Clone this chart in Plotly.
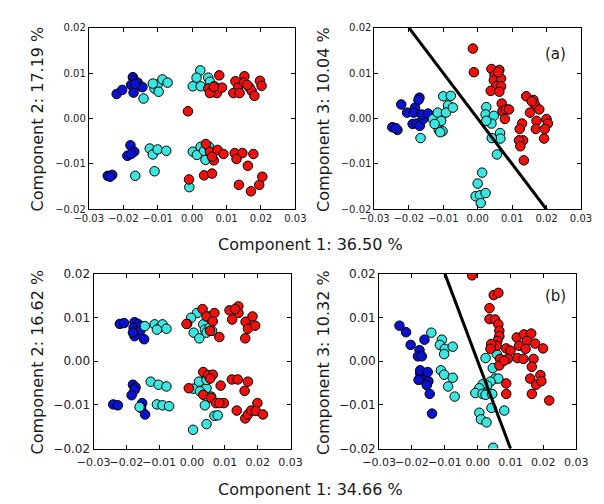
import plotly.graph_objects as go

# ---------------- data ----------------
# Panel (top-left): Component 1 vs Component 2, set (a)
a12_blue_x = [-0.0219, -0.0203, -0.0172, -0.0168, -0.0177, -0.0158, -0.0153, -0.0144, -0.0170, -0.0165,
              -0.0179, -0.0188, -0.0168, -0.0177, -0.0245, -0.0232, -0.0238]
a12_blue_y = [0.0054, 0.0063, 0.0091, 0.0084, 0.0074, 0.0079, 0.0071, 0.0069, 0.0057, 0.0076,
              -0.0059, -0.0082, -0.0073, -0.0078, -0.0126, -0.0124, -0.0128]
a12_cyan_x = [-0.0141, -0.0109, -0.0100, -0.0086, -0.0071, -0.0097, -0.0114,
              0.0024, 0.0013, 0.0002, 0.0025, 0.0047, 0.0052, 0.0065, 0.0070,
              -0.0123, -0.0114, -0.0100, -0.0075, -0.0165, -0.0109,
              0.0002, 0.0014, 0.0025, 0.0035, 0.0039, 0.0049, -0.0008]
a12_cyan_y = [0.0044, 0.0066, 0.0075, 0.0086, 0.0079, 0.0059, 0.0077,
              0.0106, 0.0090, 0.0071, 0.0071, 0.0090, 0.0081, 0.0071, 0.0066,
              -0.0066, -0.0079, -0.0068, -0.0071, -0.0126, -0.0116,
              -0.0073, -0.0080, -0.0062, -0.0071, -0.0091, -0.0062, -0.0151]
a12_red_x = [0.0079, 0.0047, 0.0058, 0.0072, 0.0087, 0.0052, 0.0063,
             0.0126, 0.0152, 0.0134, 0.0120, 0.0138, 0.0151, 0.0167, 0.0173, 0.0181, 0.0197, 0.0202, 0.0160,
             -0.0012,
             0.0040, 0.0052, 0.0074, 0.0063, 0.0058, 0.0091, 0.0124, 0.0146, 0.0129, 0.0178, 0.0162,
             -0.0009, 0.0035, 0.0058, 0.0136, 0.0171, 0.0195, 0.0204]
a12_red_y = [0.0095, 0.0066, 0.0059, 0.0056, 0.0068, 0.0056, 0.0070,
             0.0082, 0.0093, 0.0068, 0.0056, 0.0056, 0.0079, 0.0068, 0.0061, 0.0050, 0.0083, 0.0072, 0.0074,
             0.0016,
             -0.0056, -0.0073, -0.0069, -0.0092, -0.0084, -0.0078, -0.0076, -0.0076, -0.0089, -0.0078, -0.0104,
             -0.0134, -0.0125, -0.0121, -0.0146, -0.0160, -0.0146, -0.0128]

# Panel (top-right): Component 1 vs Component 3, set (a)
a13_blue_x = [-0.0248, -0.0233, -0.0238, -0.0222, -0.0205, -0.0182, -0.0169, -0.0172, -0.0186, -0.0189,
              -0.0177, -0.0168, -0.0158, -0.0163, -0.0144]
a13_blue_y = [-0.0019, -0.0025, -0.0021, 0.0031, 0.0013, 0.0024, 0.0046, 0.0041, 0.0013, -0.0012,
              -0.0011, -0.0016, -0.0001, 0.0009, 0.0011]
a13_cyan_x = [-0.0166, -0.0130, -0.0116, -0.0106, -0.0100, -0.0078, -0.0086, -0.0092, -0.0072, -0.0113,
              -0.0102, -0.0109, -0.0125,
              0.0025, 0.0023, 0.0047, 0.0040, 0.0025, 0.0065, 0.0066, 0.0041, 0.0056,
              0.0013, 0.0000, -0.0006, 0.0007, 0.0023, 0.0009]
a13_cyan_y = [-0.0043, -0.0001, 0.0013, -0.0005, 0.0049, 0.0050, 0.0029, 0.0013, 0.0024, -0.0025,
              -0.0028, -0.0030, -0.0012,
              0.0025, 0.0009, 0.0006, -0.0011, -0.0005, -0.0032, -0.0044, -0.0043, -0.0079,
              -0.0119, -0.0143, -0.0171, -0.0169, -0.0164, -0.0186]
a13_red_x = [-0.0014, -0.0011, 0.0040, 0.0063, 0.0049, 0.0047, 0.0068, 0.0054, 0.0068, 0.0038, 0.0063, 0.0060,
             0.0070, 0.0072, 0.0082, 0.0091, 0.0079,
             0.0141, 0.0162, 0.0166, 0.0179, 0.0152, 0.0171, 0.0169, 0.0200, 0.0204, 0.0195, 0.0193,
             0.0129, 0.0122, 0.0132, 0.0120, 0.0124, 0.0134, 0.0157]
a13_red_y = [0.0154, 0.0102, 0.0109, 0.0107, 0.0095, 0.0084, 0.0088, 0.0071, 0.0071, 0.0061, 0.0059, 0.0102,
             0.0033, 0.0016, 0.0020, 0.0020, -0.0001,
             0.0049, 0.0041, 0.0031, 0.0020, 0.0013, -0.0005, -0.0023, -0.0001, -0.0011, -0.0023, -0.0044,
             -0.0011, -0.0023, -0.0048, -0.0048, -0.0061, -0.0092, 0.0038]
a13_line_x = [-0.02, 0.02]
a13_line_y = [0.02, -0.02]

# Panel (bottom-left): Component 1 vs Component 2, set (b)
b12_blue_x = [-0.0220, -0.0207, -0.0175, -0.0165, -0.0178, -0.0155, -0.0170, -0.0158, -0.0175, -0.0146, -0.0180,
              -0.0180, -0.0172, -0.0175, -0.0184, -0.0240, -0.0226, -0.0152, -0.0155, -0.0143]
b12_blue_y = [0.0085, 0.0087, 0.0089, 0.0085, 0.0076, 0.0080, 0.0069, 0.0069, 0.0057, 0.0050, 0.0065,
              -0.0054, -0.0060, -0.0066, -0.0078, -0.0099, -0.0101, -0.0096, -0.0107, -0.0122]
b12_cyan_x = [-0.0144, -0.0114, -0.0100, -0.0090, -0.0078, -0.0107,
              0.0015, -0.0003, -0.0015, 0.0005, 0.0022, 0.0034, 0.0039, 0.0053, 0.0044, 0.0061, 0.0049,
              -0.0126, -0.0102, -0.0078, -0.0107, -0.0090, -0.0070, -0.0160,
              0.0021, 0.0003, 0.0044, 0.0058, 0.0039, 0.0068, 0.0078, 0.0044, 0.0003, 0.0024, 0.0044]
b12_cyan_y = [0.0080, 0.0084, 0.0076, 0.0084, 0.0074, 0.0072,
              0.0110, 0.0099, 0.0085, 0.0065, 0.0052, 0.0084, 0.0072, 0.0076, 0.0065, 0.0069, 0.0102,
              -0.0047, -0.0054, -0.0058, -0.0099, -0.0101, -0.0103, -0.0105,
              -0.0047, -0.0063, -0.0062, -0.0081, -0.0101, -0.0125, -0.0124, -0.0144, -0.0157, -0.0069, -0.0043]
b12_red_x = [-0.0017, 0.0032, 0.0044, 0.0068, 0.0063, 0.0055, 0.0083,
             0.0114, 0.0141, 0.0141, 0.0122, 0.0163, 0.0184, 0.0170, 0.0192, 0.0162, 0.0131,
             0.0034, 0.0049, 0.0063, 0.0055, 0.0087, -0.0010, 0.0034, 0.0058, 0.0073, 0.0097, 0.0083,
             0.0121, 0.0139, 0.0170, 0.0160, 0.0136, 0.0162, 0.0170, 0.0180, 0.0199, 0.0194, 0.0216]
b12_red_y = [0.0085, 0.0119, 0.0102, 0.0110, 0.0091, 0.0069, 0.0055,
             0.0116, 0.0125, 0.0110, 0.0095, 0.0090, 0.0102, 0.0074, 0.0081, 0.0052, 0.0119,
             -0.0025, -0.0032, -0.0031, -0.0040, -0.0056, -0.0062, -0.0077, -0.0084, -0.0096, -0.0096, -0.0096,
             -0.0042, -0.0042, -0.0047, -0.0068, -0.0113, -0.0131, -0.0122, -0.0113, -0.0096, -0.0114, -0.0122]

# Panel (bottom-right): Component 1 vs Component 3, set (b)
b13_blue_x = [-0.0238, -0.0218, -0.0204, -0.0177, -0.0182, -0.0170, -0.0162, -0.0175, -0.0170, -0.0160,
              -0.0165, -0.0150, -0.0155, -0.0146, -0.0139, -0.0175, -0.0152, -0.0180]
b13_blue_y = [0.0081, 0.0066, 0.0037, 0.0025, 0.0011, 0.0011, 0.0049, -0.0028, -0.0036, -0.0031,
              -0.0043, -0.0046, -0.0055, -0.0075, -0.0120, -0.0021, -0.0025, -0.0043]
b13_cyan_x = [-0.0141, -0.0109, -0.0115, -0.0100, -0.0076, -0.0102, -0.0112, -0.0102, -0.0076, -0.0090, -0.0070,
              0.0024, 0.0046, 0.0058, 0.0053, 0.0063, 0.0039, 0.0029, 0.0015, 0.0005, -0.0007, 0.0015,
              0.0024, 0.0044, 0.0042, 0.0081, 0.0005, 0.0010, 0.0027, 0.0047]
b13_cyan_y = [0.0065, 0.0049, 0.0037, 0.0028, 0.0033, 0.0016, -0.0021, -0.0031, -0.0038, -0.0058, -0.0081,
              0.0007, -0.0016, 0.0016, -0.0040, -0.0040, -0.0047, -0.0056, -0.0053, -0.0062, -0.0073, -0.0075,
              -0.0077, -0.0075, -0.0107, -0.0113, -0.0118, -0.0133, -0.0140, -0.0198]
b13_red_x = [-0.0017, 0.0049, 0.0063, 0.0036, 0.0036, 0.0053, 0.0063, 0.0066, 0.0066, 0.0060, 0.0058, 0.0041,
             0.0039, 0.0068, 0.0087, 0.0100, 0.0092, 0.0066, 0.0081, 0.0087, 0.0087,
             0.0119, 0.0141, 0.0163, 0.0150, 0.0126, 0.0146, 0.0175, 0.0199, 0.0121, 0.0139, 0.0170,
             0.0165, 0.0160, 0.0178, 0.0191, 0.0194, 0.0165, 0.0218]
b13_red_y = [0.0196, 0.0151, 0.0156, 0.0121, 0.0096, 0.0095, 0.0084, 0.0069, 0.0057, 0.0046, 0.0035, 0.0039,
             0.0028, 0.0005, 0.0029, 0.0024, 0.0005, -0.0010, 0.0001, -0.0051, -0.0075,
             0.0054, 0.0061, 0.0063, 0.0046, 0.0035, 0.0028, 0.0040, 0.0029, 0.0007, 0.0005, 0.0005,
             -0.0013, -0.0040, -0.0054, -0.0032, -0.0046, -0.0075, -0.0090]
b13_line_x = [-0.01, 0.01]
b13_line_y = [0.02, -0.02]

x_ticks = [-0.03, -0.02, -0.01, 0.0, 0.01, 0.02, 0.03]
y_ticks = [-0.02, -0.01, 0.0, 0.01, 0.02]
x_ticktext = ["\u22120.03", "\u22120.02", "\u22120.01", "0.00", "0.01", "0.02", "0.03"]
y_ticktext = ["\u22120.02", "\u22120.01", "0.00", "0.01", "0.02"]

BLUE = "#0a12d0"
CYAN = "#3ce6e0"
RED = "#f0100c"
FONT = "DejaVu Sans"

W, H = 604, 504
fig = go.Figure()

panels = [
    # (suffix, x-domain px, y-domain px (top,bottom), x tick size, y tick size, x standoff, data..., line)
    ("", (67, 284), (13, 200), 10, 10, 0, (a12_blue_x, a12_blue_y), (a12_cyan_x, a12_cyan_y), (a12_red_x, a12_red_y), None),
    ("2", (367, 584), (13, 200), 10, 10, 0, (a13_blue_x, a13_blue_y), (a13_cyan_x, a13_cyan_y), (a13_red_x, a13_red_y), (a13_line_x, a13_line_y)),
    ("3", (72, 279), (266, 446), 11, 12, 3, (b12_blue_x, b12_blue_y), (b12_cyan_x, b12_cyan_y), (b12_red_x, b12_red_y), None),
    ("4", (372, 579), (266, 446), 11, 12, 3, (b13_blue_x, b13_blue_y), (b13_cyan_x, b13_cyan_y), (b13_red_x, b13_red_y), (b13_line_x, b13_line_y)),
]

layout_axes = {}
for suf, (x0, x1), (yt, yb), xfs, yfs, xso, blue, cyan, red, line in panels:
    xa, ya = "x" + suf, "y" + suf
    for (xs, ys), col in ((blue, BLUE), (cyan, CYAN), (red, RED)):
        fig.add_trace(go.Scatter(
            x=xs, y=ys, mode="markers", xaxis=xa, yaxis=ya, showlegend=False,
            marker=dict(size=9.5, color=col, line=dict(color="black", width=1)),
        ))
    if line is not None:
        fig.add_trace(go.Scatter(
            x=line[0], y=line[1], mode="lines", xaxis=xa, yaxis=ya, showlegend=False,
            line=dict(color="black", width=3),
        ))
    common = dict(showgrid=False, zeroline=False, showline=True, linecolor="black", linewidth=1,
                  mirror="allticks", ticks="inside", ticklen=4, tickwidth=1, tickcolor="black")
    layout_axes["xaxis" + suf] = dict(common, domain=[x0 / W, x1 / W], range=[-0.03, 0.03],
                                      tickvals=x_ticks, ticktext=x_ticktext, tickangle=0, anchor=ya,
                                      ticklabelstandoff=xso,
                                      tickfont=dict(family=FONT, size=xfs, color="#222222"))
    layout_axes["yaxis" + suf] = dict(common, domain=[1 - yb / H, 1 - yt / H], range=[-0.02, 0.02],
                                      tickvals=y_ticks, ticktext=y_ticktext, anchor=xa,
                                      tickfont=dict(family=FONT, size=yfs, color="#222222"))

fig.update_layout(**layout_axes)

def ann(text, px, py, size=16, angle=0):
    return dict(text=text, x=px / W, y=1 - py / H, xref="paper", yref="paper", showarrow=False,
                textangle=angle, xanchor="center", yanchor="middle",
                font=dict(family=FONT, size=size, color="#1a1a1a"))

annotations = [
    ann("Component 1: 36.50 %", 300, 236),
    ann("Component 1: 34.66 %", 300, 488),
    ann("Component 2: 17.19 %", 13, 107, angle=-90),
    ann("Component 3: 10.04 %", 313, 107, angle=-90),
    ann("Component 2: 16.62 %", 13, 357, angle=-90),
    ann("Component 3: 10.32 %", 313, 357, angle=-90),
    dict(text="(a)", x=0.0225, y=0.0143, xref="x2", yref="y2", showarrow=False,
         font=dict(family=FONT, size=15, color="#1a1a1a")),
    dict(text="(b)", x=0.0238, y=0.0148, xref="x4", yref="y4", showarrow=False,
         font=dict(family=FONT, size=15, color="#1a1a1a")),
]

fig.update_layout(width=W, height=H, margin=dict(l=0, r=0, t=0, b=0),
                  paper_bgcolor="white", plot_bgcolor="white",
                  annotations=annotations, font=dict(family=FONT))

fig.write_html("out.html")
